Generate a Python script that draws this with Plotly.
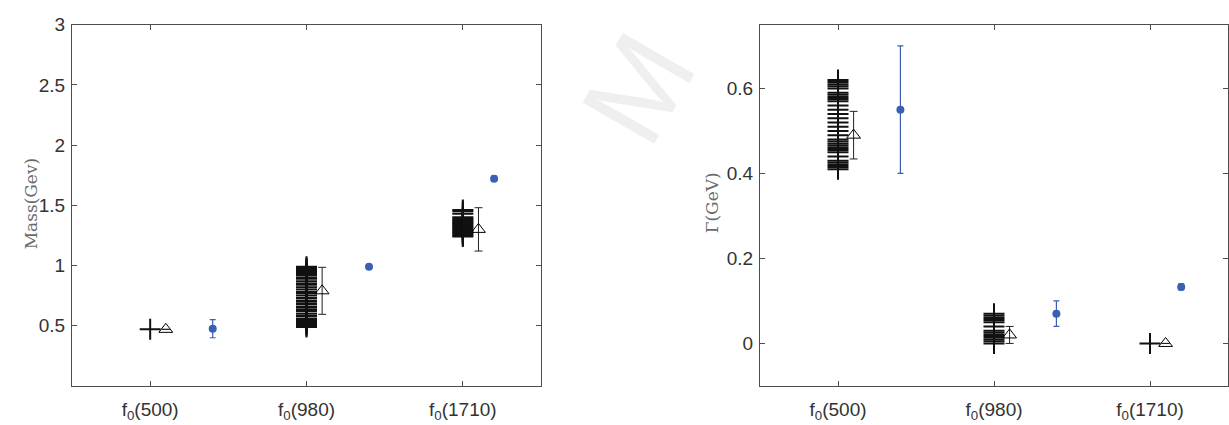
import plotly.graph_objects as go

# Resonance labels and category positions
categories = ["f<sub>0</sub>(500)", "f<sub>0</sub>(980)", "f<sub>0</sub>(1710)"]
cat_pos = [1, 2, 3]

# ---- Mass panel -------------------------------------------------------
# scan of model predictions (black crosses)
mass_500_scan = [0.47]
mass_980_scan = [0.49, 0.50, 0.51, 0.52, 0.53, 0.54, 0.55, 0.56, 0.58, 0.60,
                 0.62, 0.63, 0.65, 0.66, 0.68, 0.70, 0.71, 0.73, 0.75, 0.77,
                 0.78, 0.80, 0.82, 0.84, 0.85, 0.87, 0.89, 0.90, 0.92, 0.93,
                 0.94, 0.95, 0.96, 0.97, 0.98, 0.99]
mass_1710_scan = [1.24, 1.25, 1.26, 1.27, 1.28, 1.29, 1.30, 1.31, 1.32, 1.33,
                  1.34, 1.35, 1.36, 1.37, 1.38, 1.39, 1.40, 1.43, 1.45, 1.46]
# averaged result (open triangles)
mass_avg = [0.47, 0.79, 1.30]
mass_avg_err = [0.0, 0.195, 0.18]
# reference values (blue dots)
mass_ref = [0.475, 0.99, 1.72]
mass_ref_err = [0.075, 0.01, 0.022]

# ---- Width panel ------------------------------------------------------
width_500_scan = [0.41, 0.415, 0.42, 0.425, 0.43, 0.44, 0.45, 0.455, 0.46,
                  0.465, 0.47, 0.475, 0.48, 0.49, 0.50, 0.51, 0.52, 0.53,
                  0.54, 0.55, 0.56, 0.57, 0.575, 0.58, 0.585, 0.59, 0.60,
                  0.605, 0.61, 0.615, 0.62]
width_980_scan = [0.0, 0.005, 0.01, 0.015, 0.02, 0.025, 0.03, 0.04, 0.05,
                  0.055, 0.06, 0.065, 0.07]
width_1710_scan = [0.0]
width_avg = [0.49, 0.02, 0.0]
width_avg_err = [0.056, 0.02, 0.0]
width_ref = [0.55, 0.07, 0.133]
width_ref_err = [0.15, 0.03, 0.007]

# horizontal offsets of the marker groups around each category
avg_shift = [0.1, 0.1, 0.1]
ref_shift = [0.4, 0.4, 0.2]

mass_ticks = [0.5, 1, 1.5, 2, 2.5, 3]
width_ticks = [0, 0.2, 0.4, 0.6]

BLUE = "#3a60b4"
FRAME = "#4d4d4d"
TEXT = "#333333"
W, H = 1229, 425

fig = go.Figure()


def add_panel(scans, avg, avg_err, ref, ref_err, xa, ya):
    for pos, vals in zip(cat_pos, scans):
        fig.add_trace(go.Scatter(
            x=[pos] * len(vals), y=vals, mode="markers",
            marker=dict(symbol="cross-thin", size=15, color="black",
                        line=dict(width=2, color="#111111")),
            xaxis=xa, yaxis=ya, showlegend=False, hoverinfo="y"))
    fig.add_trace(go.Scatter(
        x=[p + s for p, s in zip(cat_pos, avg_shift)], y=avg, mode="markers",
        marker=dict(symbol="triangle-up-open", size=12, color="black",
                    line=dict(width=1, color="black")),
        error_y=dict(type="data", array=avg_err, color="#222222",
                     thickness=1, width=4),
        xaxis=xa, yaxis=ya, showlegend=False))
    fig.add_trace(go.Scatter(
        x=[p + s for p, s in zip(cat_pos, ref_shift)], y=ref, mode="markers",
        marker=dict(symbol="circle", size=8, color=BLUE),
        error_y=dict(type="data", array=ref_err, color=BLUE,
                     thickness=1.2, width=3),
        xaxis=xa, yaxis=ya, showlegend=False))


add_panel([mass_500_scan, mass_980_scan, mass_1710_scan],
          mass_avg, mass_avg_err, mass_ref, mass_ref_err, "x", "y")
add_panel([width_500_scan, width_980_scan, width_1710_scan],
          width_avg, width_avg_err, width_ref, width_ref_err, "x2", "y2")

axis_common = dict(showgrid=False, zeroline=False, showline=True,
                   linecolor=FRAME, linewidth=1, mirror="ticks",
                   ticks="inside", ticklen=5, tickcolor=FRAME,
                   tickfont=dict(family="Liberation Sans, Arial", size=19,
                                 color=TEXT))

ytop = 1 - 15 / H
ybot = 1 - 385 / H
title_font = dict(family="DejaVu Serif, Liberation Serif", size=17,
                  color="#6a6a6a")

fig.update_layout(
    width=W, height=H,
    margin=dict(l=0, r=0, t=0, b=0),
    paper_bgcolor="white", plot_bgcolor="white",
    xaxis=dict(domain=[72 / W, 541 / W], range=[0.5, 3.5],
               tickvals=cat_pos, ticktext=categories, anchor="y",
               ticklabelstandoff=6, **axis_common),
    yaxis=dict(domain=[ybot, ytop], range=[0, 3], tickvals=mass_ticks,
               ticktext=["0.5", "1", "1.5", "2", "2.5", "3"], anchor="x",
               ticklabelstandoff=2, **axis_common),
    xaxis2=dict(domain=[760 / W, 1228 / W], range=[0.5, 3.5],
                tickvals=cat_pos, ticktext=categories, anchor="y2",
                ticklabelstandoff=6, **axis_common),
    yaxis2=dict(domain=[ybot, ytop], range=[-0.1, 0.75],
                tickvals=width_ticks,
                ticktext=["0", "0.2", "0.4", "0.6"], anchor="x2",
                ticklabelstandoff=2, **axis_common),
    annotations=[
        dict(text="Mass(Gev)", x=19 / W, y=1 - 198 / H, xref="paper",
             yref="paper", textangle=-90, showarrow=False, font=title_font),
        dict(text="Γ(GeV)", x=712 / W, y=1 - 198 / H, xref="paper",
             yref="paper", textangle=-90, showarrow=False, font=title_font),
        # faint page watermark between the panels
        dict(text="M", x=638 / W, y=1 - 80 / H, xref="paper", yref="paper",
             xanchor="center", yanchor="middle",
             textangle=-60, showarrow=False,
             font=dict(family="Liberation Sans, Arial", size=120,
                       color="#efefef")),
    ],
)

fig.write_html("out.html")
